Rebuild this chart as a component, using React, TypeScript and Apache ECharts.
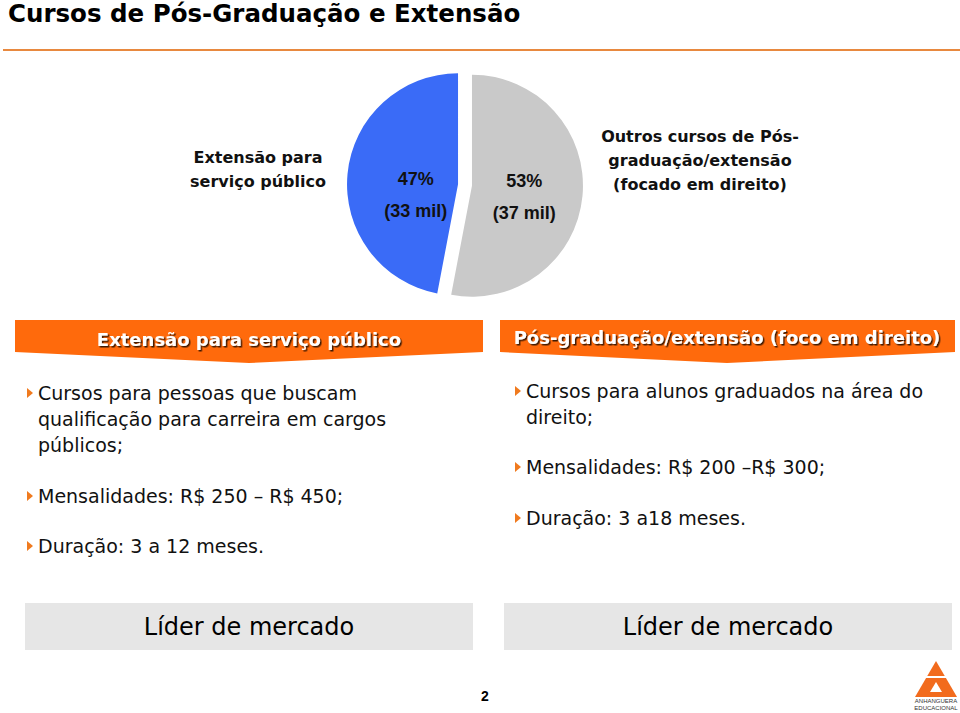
import React, { useEffect, useRef } from "react";
import * as echarts from "echarts";

const pageTitle = "Cursos de Pós-Graduação e Extensão";
const categories = ["Outros cursos de Pós-graduação/extensão (focado em direito)", "Extensão para serviço público"];
const shares = [53, 47];
const studentsThousand = [37, 33];
const sliceColors = ["#C9C9C9", "#3A6BF7"];
const outerLabelLeft = "Extensão para\nserviço público";
const outerLabelRight = "Outros cursos de Pós-\ngraduação/extensão\n(focado em direito)";
const bannerTitles = ["Extensão para serviço público", "Pós-graduação/extensão (foco em direito)"];
const leftBullets = [
  "Cursos para pessoas que buscam\nqualificação para carreira em cargos\npúblicos;",
  "Mensalidades: R$ 250 – R$ 450;",
  "Duração: 3 a 12 meses.",
];
const rightBullets = [
  "Cursos para alunos graduados na área do\ndireito;",
  "Mensalidades: R$ 200 –R$ 300;",
  "Duração: 3 a18 meses.",
];
const footerBoxes = ["Líder de mercado", "Líder de mercado"];
const pageNumber = "2";

const ORANGE = "#FF6A0C";
const BODY_FONT = "DejaVu Sans";

export default function App() {
  const ref = useRef<HTMLDivElement>(null);
  useEffect(() => {
    if (!ref.current) return;
    const chart = echarts.init(ref.current, null, { renderer: "svg" });

    const graphics: any[] = [];
    // title
    graphics.push({
      type: "text", left: 8, top: 1,
      style: { text: pageTitle, font: "bold 24.5px 'DejaVu Sans'", fill: "#000" },
    });
    graphics.push({
      type: "line", shape: { x1: 3, y1: 50, x2: 960, y2: 50 },
      style: { stroke: "#E8893F", lineWidth: 2 },
    });
    // outer labels
    graphics.push({
      type: "text", x: 258, y: 169,
      style: { text: outerLabelLeft, font: "bold 16px " + BODY_FONT, fill: "#111", align: "center", verticalAlign: "middle", lineHeight: 24 },
    });
    graphics.push({
      type: "text", x: 700, y: 160,
      style: { text: outerLabelRight, font: "bold 16px " + BODY_FONT, fill: "#111", align: "center", verticalAlign: "middle", lineHeight: 24 },
    });
    // banners
    const banners = [
      { x0: 15, x1: 483, cx: 249, ty: 339 },
      { x0: 500, x1: 955, cx: 727, ty: 337 },
    ];
    banners.forEach((b, i) => {
      graphics.push({
        type: "polygon",
        shape: { points: [[b.x0, 320], [b.x1, 320], [b.x1, 352], [b.cx, 363], [b.x0, 352]] },
        style: { fill: ORANGE },
      });
      graphics.push({
        type: "text", x: b.cx, y: b.ty,
        style: {
          text: bannerTitles[i], font: "bold 18px " + BODY_FONT, fill: "#fff",
          align: "center", verticalAlign: "middle",
          textShadowColor: "rgba(0,0,0,0.75)", textShadowOffsetX: 1.5, textShadowOffsetY: 1.5, textShadowBlur: 1,
        },
      });
    });
    // bullets
    const addBullets = (items: string[], bx: number, tx: number, ys: number[]) => {
      items.forEach((t, i) => {
        const y = ys[i];
        graphics.push({
          type: "polygon",
          shape: { points: [[bx, y - 5], [bx + 6, y], [bx, y + 5]] },
          style: { fill: "#F07A1E" },
        });
        graphics.push({
          type: "text", x: tx, y: y - 13,
          style: { text: t, font: "19px " + BODY_FONT, fill: "#111", lineHeight: 26, verticalAlign: "top" },
        });
      });
    };
    addBullets(leftBullets, 27, 38, [393, 496, 546]);
    addBullets(rightBullets, 515, 526, [391, 467, 518]);
    // footer boxes
    const boxes = [{ x: 25, cx: 249 }, { x: 504, cx: 728 }];
    boxes.forEach((b, i) => {
      graphics.push({
        type: "rect", shape: { x: b.x, y: 603, width: 448, height: 47 },
        style: { fill: "#E6E6E6" },
      });
      graphics.push({
        type: "text", x: b.cx, y: 627,
        style: { text: footerBoxes[i], font: "24px " + BODY_FONT, fill: "#000", align: "center", verticalAlign: "middle" },
      });
    });
    graphics.push({
      type: "text", x: 485, y: 696,
      style: { text: pageNumber, font: "bold 14px 'Liberation Sans', Arial", fill: "#000", align: "center", verticalAlign: "middle" },
    });
    // logo
    graphics.push({
      type: "polygon", shape: { points: [[936, 661], [957, 697], [915, 697]] },
      style: { fill: "#F26B1D" },
    });
    graphics.push({ type: "line", shape: { x1: 926, y1: 677, x2: 946, y2: 677 }, style: { stroke: "#fff", lineWidth: 2 } });
    graphics.push({ type: "polygon", shape: { points: [[936, 682], [942, 692], [930, 692]] }, style: { fill: "#fff" } });
    graphics.push({
      type: "text", x: 936, y: 704,
      style: { text: "ANHANGUERA\nEDUCACIONAL", font: "6px 'Liberation Sans Narrow', 'Liberation Sans'", fill: "#333", align: "center", verticalAlign: "middle", lineHeight: 7 },
    });

    // horizontal nudge via padding (top, right, bottom, left); vertical nudge via a spacer line
    const labelPaddings = [[0, 12, 0, 0], [0, 0, 0, 32]];

    chart.setOption({
      animation: false,
      graphic: graphics,
      series: [
        {
          type: "pie",
          center: [465, 185],
          radius: [0, 111],
          startAngle: 90,
          clockwise: true,
          selectedMode: "multiple",
          selectedOffset: 7,
          silent: true,
          data: categories.map((name, i) => ({
            name,
            value: shares[i],
            selected: true,
            itemStyle: { color: sliceColors[i] },
            label: { padding: labelPaddings[i] },
          })),
          label: {
            show: true,
            position: "inside",
            formatter: (p: any) =>
              `{sp${p.dataIndex}| }\n{t|${shares[p.dataIndex]}%}\n{t|(${studentsThousand[p.dataIndex]} mil)}`,
            fontFamily: "'Liberation Sans', Arial",
            fontWeight: "bold",
            fontSize: 18,
            lineHeight: 32,
            color: "#111",
            rich: {
              sp0: { fontSize: 2, lineHeight: 12 },
              sp1: { fontSize: 2, lineHeight: 32 },
              t: {
                fontFamily: "'Liberation Sans', Arial",
                fontWeight: "bold",
                fontSize: 18,
                lineHeight: 32,
                color: "#111",
              },
            },
          },
          labelLine: { show: false },
          emphasis: { disabled: true },
        },
      ],
    });
    return () => chart.dispose();
  }, []);
  return <div ref={ref} style={{ position: "fixed", left: 0, top: 0, width: 960, height: 713, background: "#fff" }} />;
}
